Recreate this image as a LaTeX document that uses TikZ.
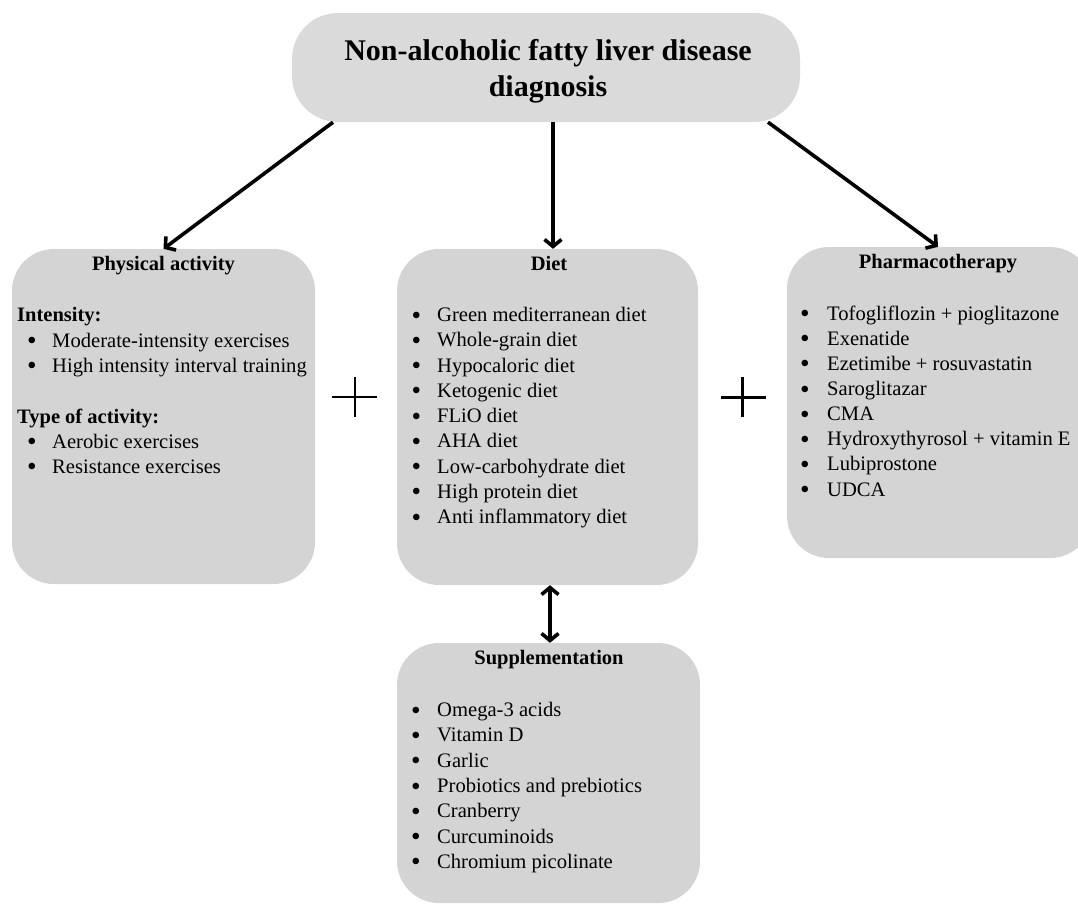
\documentclass[tikz,border=0pt]{standalone}
\usepackage{graphicx}
\usepackage{fontspec}
\setmainfont{Liberation Serif}
\usetikzlibrary{arrows.meta}
\definecolor{boxgray}{RGB}{212,212,212}
\definecolor{topgray}{RGB}{218,218,218}
\newcommand{\bigbul}{\raisebox{-2.6pt}{\scalebox{1.3}{\textbullet}}}
\begin{document}
\begin{tikzpicture}[x=1pt,y=-1pt,
  box/.style={fill=boxgray, draw=none, rounded corners=42pt, inner sep=0pt},
  topbox/.style={fill=topgray, draw=none, rounded corners=46pt, inner sep=0pt},
  ttl/.style={inner sep=0pt, anchor=base, font=\fontsize{30}{35}\selectfont\bfseries},
  hd/.style={inner sep=0pt, anchor=base, font=\fontsize{20.5}{25}\selectfont\bfseries},
  sub/.style={inner sep=0pt, anchor=base west, font=\fontsize{20.5}{25}\selectfont\bfseries},
  itm/.style={inner sep=0pt, anchor=base west, font=\fontsize{20.6}{25.3}\selectfont},
  bul/.style={inner sep=0pt, anchor=base, font=\fontsize{21}{25.3}\selectfont},
  arr/.style={line width=3.6pt, -{Straight Barb[length=7pt,width=17pt]}},
  darr/.style={line width=3.6pt, {Straight Barb[length=7pt,width=17pt]}-{Straight Barb[length=7pt,width=17pt]}},
  plus/.style={line width=2.6pt}
]
\useasboundingbox (0,0) rectangle (1078,905);
\clip (0,0) rectangle (1078,905);

% boxes
\node[topbox, minimum width=508pt, minimum height=109pt] (top) at (546,67.5) {};
\node[box, minimum width=303pt, minimum height=335pt] (phys) at (163.5,416.5) {};
\node[box, minimum width=301pt, minimum height=336pt] (diet) at (547.5,417) {};
\node[box, minimum width=305pt, minimum height=311pt] (pharm) at (939.5,402.5) {};
\node[box, minimum width=303pt, minimum height=260pt] (supp) at (548.5,773) {};

% title
\node[ttl] (t1) at (548,60) {Non-alcoholic fatty liver disease};
\node[ttl] (t2) at (548,96) {diagnosis};

% headings
\node[hd] (hphys) at (163.5,270) {Physical activity};
\node[hd] (hdiet) at (549,270.5) {Diet};
\node[hd] (hpharm) at (938,268) {Pharmacotherapy};
\node[hd] (hsupp) at (549,664) {Supplementation};

% physical activity
\node[sub] (int) at (17,321) {Intensity:};
\node[bul] (pb1) at (32,347) {\bigbul};
\node[itm] (p1) at (52,347) {Moderate-intensity exercises};
\node[bul] (pb2) at (32,372.3) {\bigbul};
\node[itm] (p2) at (52,372.3) {High intensity interval training};
\node[sub] (typ) at (17,423) {Type of activity:};
\node[bul] (pb3) at (32,448) {\bigbul};
\node[itm] (p3) at (52,448) {Aerobic exercises};
\node[bul] (pb4) at (32,473.3) {\bigbul};
\node[itm] (p4) at (52,473.3) {Resistance exercises};

% diet
\foreach \t [count=\i] in {Green mediterranean diet, Whole-grain diet, Hypocaloric diet, Ketogenic diet, FLiO diet, AHA diet, Low-carbohydrate diet, High protein diet, Anti inflammatory diet}{
  \node[bul] (db\i) at (416.5,{321.5+25.25*(\i-1)}) {\bigbul};
  \node[itm] (d\i) at (437,{321.5+25.25*(\i-1)}) {\t};
}

% pharmacotherapy
\foreach \t [count=\i] in {Tofogliflozin + pioglitazone, Exenatide, Ezetimibe + rosuvastatin, Saroglitazar, CMA, Hydroxythyrosol + vitamin E, Lubiprostone, UDCA}{
  \node[bul] (mb\i) at (805,{320+25.15*(\i-1)}) {\bigbul};
  \node[itm] (m\i) at (827,{320+25.15*(\i-1)}) {\t};
}

% supplementation
\foreach \t [count=\i] in {Omega-3 acids, Vitamin D, Garlic, Probiotics and prebiotics, Cranberry, Curcuminoids, Chromium picolinate}{
  \node[bul] (sb\i) at (416,{716.7+25.27*(\i-1)}) {\bigbul};
  \node[itm] (s\i) at (437,{716.7+25.27*(\i-1)}) {\t};
}

% connectors
\draw[arr] ([xshift=-213pt]top.south) -- ([xshift=0pt]phys.north);
\draw[arr] ([xshift=7pt]top.south) -- ([xshift=5.5pt]diet.north);
\draw[arr] ([xshift=222pt]top.south) -- ([xshift=-1.5pt]pharm.north);
\draw[darr] ([xshift=2.5pt]diet.south) -- ([xshift=1.5pt]supp.north);

% plus signs
\draw[plus] (332,397) -- (377,397) (355,377) -- (355,417);
\draw[plus] (720.5,397.3) -- (765.5,397.3) (742.7,377) -- (742.7,417);
\end{tikzpicture}
\end{document}
